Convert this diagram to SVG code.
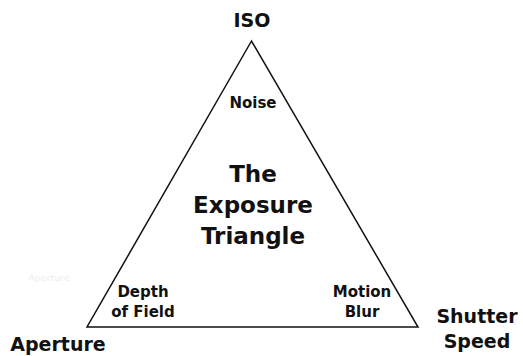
<svg xmlns="http://www.w3.org/2000/svg" width="523" height="356" viewBox="0 0 523 356">
<style>
text{font-family:"DejaVu Sans",Verdana,"Liberation Sans",sans-serif;font-weight:bold;fill:#111;text-anchor:middle}
.big{font-size:19px}
.mid{font-size:15px}
.title{font-size:23px}
.ghost{font-size:9.5px;fill:#eeeeee;font-weight:normal}
.edge{stroke:#111;stroke-width:1.5;fill:none;stroke-linejoin:miter}
</style>
<rect width="523" height="356" fill="#ffffff"/>
<g id="connectors">
<path class="edge" d="M251.5,41 L87,327 L418,327 Z"/>
</g>
<g id="iso"><text class="big" x="252" y="27">ISO</text></g>
<g id="aperture"><text class="big" x="58" y="351">Aperture</text></g>
<g id="shutter"><text class="big" x="477" y="323">Shutter</text><text class="big" x="477" y="348">Speed</text></g>
<g id="noise"><text class="mid" x="253" y="108">Noise</text></g>
<g id="dof"><text class="mid" x="143" y="297">Depth</text><text class="mid" x="143" y="317">of Field</text></g>
<g id="motion"><text class="mid" x="362" y="297">Motion</text><text class="mid" x="362" y="317">Blur</text></g>
<g id="title"><text class="title" x="253" y="182">The</text><text class="title" x="253" y="213">Exposure</text><text class="title" x="253" y="244">Triangle</text></g>
<g id="ghost"><text class="ghost" x="49" y="281">Aperture</text></g>
</svg>
